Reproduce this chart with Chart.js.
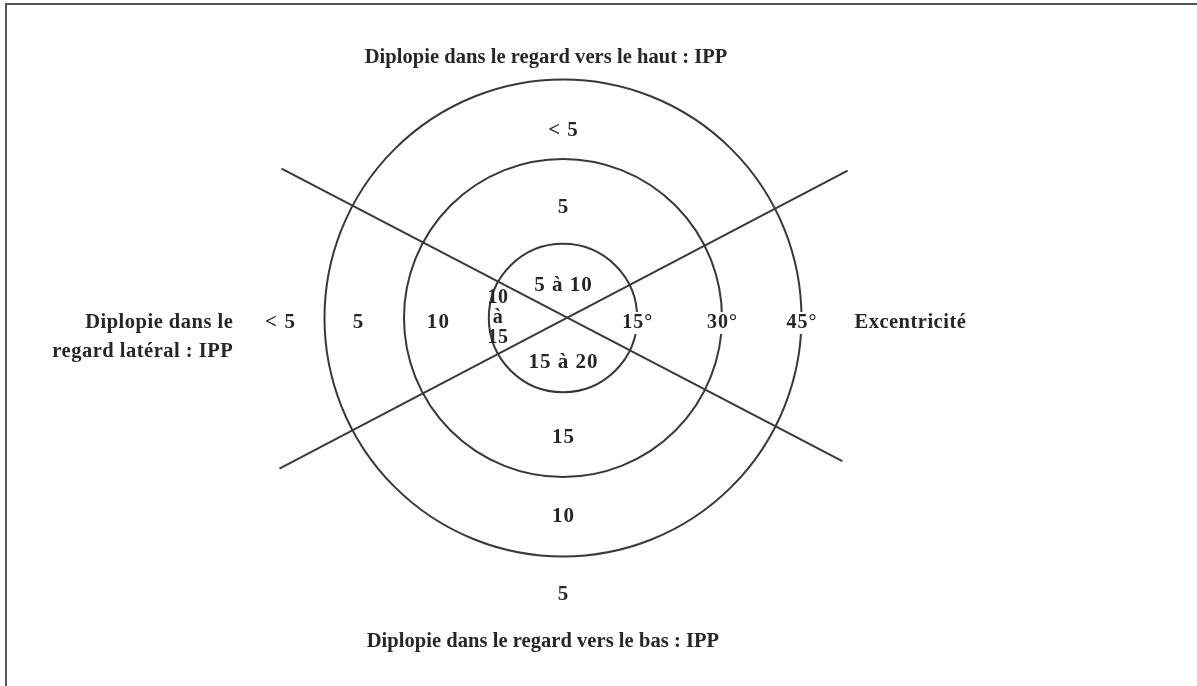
<!DOCTYPE html>
<html><head><meta charset="utf-8">
<script src="https://cdn.jsdelivr.net/npm/chart.js@4.4.0/dist/chart.umd.min.js"></script>
<style>
html,body{margin:0;padding:0;background:#fff;width:1197px;height:686px;overflow:hidden}
#frame{position:absolute;left:5px;top:3px;width:1300px;height:800px;border-left:2px solid #555;border-top:2px solid #555;box-sizing:border-box}
#c{position:absolute;left:0;top:0}
</style></head><body>
<div id="frame"></div>
<canvas id="c" width="1197" height="686"></canvas>
<script>
// ---- data ----
const ringValues = [14, 30, 45];            // eccentricity rings
const ringLabels = ['15°', '30°', '45°'];
const lineA = [{x: -53.1, y: 28.2}, {x: 52.7, y: -27.0}];
const lineB = [{x: -53.5, y: -28.4}, {x: 53.7, y: 27.8}];
const verticalZoneLabels = ['< 5', '5', '5 à 10', '15 à 20', '15', '10', '5'];
const lateralZoneLabels = ['< 5', '5', '10'];
const innerLeftLabel = ['10', 'à', '15'];
const titleTop = 'Diplopie dans le regard vers le haut : IPP';
const titleBottom = 'Diplopie dans le regard vers le bas : IPP';
const titleLeft = ['Diplopie dans le', 'regard latéral : IPP'];
const titleRight = 'Excentricité';

// ---- layout (data units) ----
const layout = {
  verticalZoneY: [35.3, 20.75, 6.2, -8.5, -22.5, -37.5, -52.1],
  lateralZoneX: [-53.4, -38.7, -23.6],
  rowY: -0.94,
  innerLeftX: -12.3, innerLeftY: [3.8, 0, -3.8],
  rightX: 65.5,
  leftX: -62.3, leftY: [-0.94, -6.4],
  topX: -3.2, topY: 49.1,
  bottomX: -3.8, bottomY: -61.1
};
const ink = '#262626';
const lineColor = '#383838';
const FONT = '"Liberation Serif", "Times New Roman", serif';

const textPlugin = {
  id: 'texts',
  afterDatasetsDraw(chart) {
    const {ctx, scales: {x, y}} = chart;
    const px = v => x.getPixelForValue(v), py = v => y.getPixelForValue(v);
    function txt(s, vx, vy, size, spacing, align, backdrop) {
      ctx.save();
      ctx.font = 'bold ' + size + 'px ' + FONT;
      ctx.letterSpacing = spacing + 'px';
      ctx.textAlign = 'left';
      ctx.textBaseline = 'middle';
      const w = ctx.measureText(s).width - spacing;
      let X = px(vx);
      const Y = py(vy);
      if (align === 'right') X = X - w; else X = X - w / 2;
      if (backdrop) {
        ctx.fillStyle = '#fff';
        ctx.fillRect(X - 3, Y - size / 2 - 1, w + 6, size + 2);
      }
      ctx.fillStyle = ink;
      ctx.fillText(s, X, Y);
      ctx.restore();
    }
    verticalZoneLabels.forEach((s, i) => txt(s, 0, layout.verticalZoneY[i], 21, 1));
    lateralZoneLabels.forEach((s, i) => txt(s, layout.lateralZoneX[i], layout.rowY, 21, 1.2));
    innerLeftLabel.forEach((s, i) => txt(s, layout.innerLeftX, layout.innerLeftY[i], 20, 0.5));
    ringValues.forEach((v, i) => txt(ringLabels[i], v, layout.rowY, 20, 1, 'center', true));
    txt(titleRight, layout.rightX, layout.rowY, 20.5, 0.5);
    titleLeft.forEach((s, i) => txt(s, layout.leftX, layout.leftY[i], 20.5, 0.5, 'right'));
    txt(titleTop, layout.topX, layout.topY, 20.5, 0.05);
    txt(titleBottom, layout.bottomX, layout.bottomY, 20.5, 0.05);
  }
};

const K = 5.3; // px per unit
const cx = 563, cy = 318, W = 1197, H = 686;

const ringDatasets = ringValues.map(v => ({
  type: 'scatter',
  data: [{x: 0, y: 0}],
  pointStyle: 'circle',
  pointBackgroundColor: 'rgba(0,0,0,0)',
  pointBorderColor: lineColor,
  pointBorderWidth: 2,
  pointRadius: ctx => {
    const s = ctx.chart.scales.x;
    return s.getPixelForValue(v) - s.getPixelForValue(0);
  }
}));
const lineDatasets = [lineA, lineB].map(d => ({
  type: 'line',
  data: d,
  borderColor: lineColor,
  borderWidth: 2,
  pointRadius: 0,
  fill: false
}));

new Chart(document.getElementById('c'), {
  type: 'scatter',
  data: {datasets: [...ringDatasets, ...lineDatasets]},
  options: {
    responsive: false,
    animation: false,
    events: [],
    layout: {padding: 0},
    plugins: {legend: {display: false}, tooltip: {enabled: false}},
    scales: {
      x: {type: 'linear', display: false, min: -cx / K, max: (W - cx) / K},
      y: {type: 'linear', display: false, min: -(H - cy) / K, max: cy / K}
    }
  },
  plugins: [textPlugin]
});
</script>
</body></html>
